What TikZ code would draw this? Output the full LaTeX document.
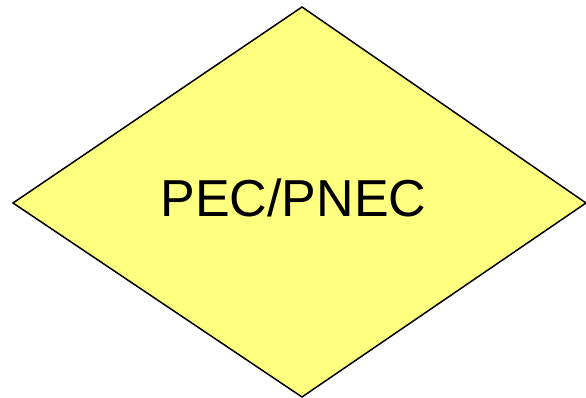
\documentclass[tikz,border=0pt]{standalone}
\usepackage{fontspec}
\setmainfont{Liberation Sans}
\definecolor{diamfill}{RGB}{255,255,128}
\begin{document}
\begin{tikzpicture}[x=1pt,y=1pt,
  diam/.style={draw=black,fill=diamfill,line width=1.5pt,line join=miter},
  lbl/.style={font=\fontsize{52}{62}\selectfont,inner sep=0pt}]
\useasboundingbox (0,0) rectangle (586,398);
\coordinate (t) at (302,391);
\coordinate (l) at (13,195);
\coordinate (r) at (586,195);
\coordinate (b) at (302,1);
\draw[diam] (t) -- (r) -- (b) -- (l) -- cycle;
\node[lbl,anchor=base] (txt) at (293.5,181) {PEC/PNEC};
\end{tikzpicture}
\end{document}
